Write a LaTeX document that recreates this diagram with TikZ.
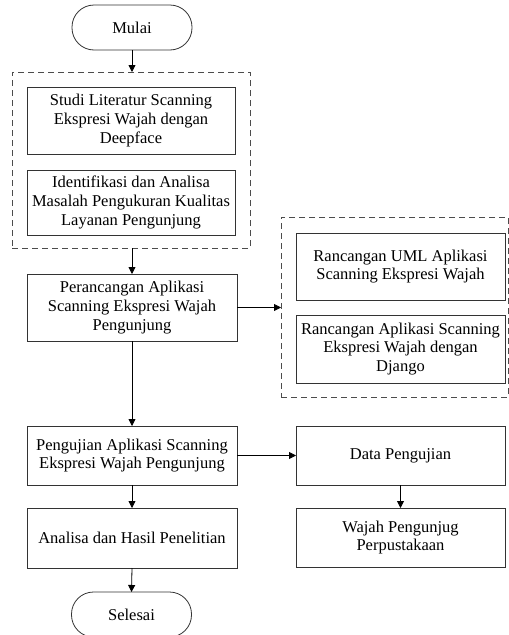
\documentclass[tikz,border=0pt]{standalone}
\usepackage{fontspec}
\setmainfont{Liberation Serif}
\usetikzlibrary{arrows.meta}
\begin{document}
\begin{tikzpicture}[x=1pt,y=-1pt,
  font=\fontsize{16.5}{18.7}\selectfont,
  every node/.style={inner sep=0pt, outer sep=0pt},
  box/.style={draw=black!80, line width=0.8pt, rectangle, align=center},
  term/.style={draw=black!80, line width=0.8pt, rectangle, rounded corners=22pt,
    minimum width=120pt, minimum height=45pt},
  group/.style={draw=black!70, line width=0.8pt, dash pattern=on 6pt off 4pt},
  flow/.style={draw=black, line width=0.8pt, -{Triangle[width=7pt,length=7pt]}}
]
\useasboundingbox (0,0) rectangle (509,635);

% dashed group frames
\node[group, minimum width=238pt, minimum height=176pt] (grpA) at (131,160) {};
\node[group, minimum width=227pt, minimum height=180pt] (grpB) at (394.5,307) {};

% terminators
\node[term] (mulai) at (132,27.5) {Mulai};
\node[term] (selesai) at (131.5,614.5) {Selesai};

% left column
\node[box, minimum width=208pt, minimum height=67pt] (studi) at (131,120.5)
  {Studi Literatur Scanning\\Ekspresi Wajah dengan\\Deepface};
\node[box, minimum width=208pt, minimum height=65pt] (ident) at (131,202.5)
  {Identifikasi dan Analisa\\Masalah Pengukuran Kualitas\\Layanan Pengunjung};
\node[box, minimum width=210pt, minimum height=67pt] (peran) at (132,307.5)
  {Perancangan Aplikasi\\Scanning Ekspresi Wajah\\Pengunjung};
\node[box, minimum width=210pt, minimum height=59pt] (uji) at (132,455.5)
  {Pengujian Aplikasi Scanning\\Ekspresi Wajah Pengunjung};
\node[box, minimum width=210pt, minimum height=60pt] (analisa) at (132,538)
  {Analisa dan Hasil Penelitian};

% right column
\node[box, minimum width=209pt, minimum height=67pt] (uml) at (400.5,266.5)
  {Rancangan UML Aplikasi\\Scanning Ekspresi Wajah};
\node[box, minimum width=209pt, minimum height=68pt] (django) at (400.5,349)
  {Rancangan Aplikasi Scanning\\Ekspresi Wajah dengan\\Django};
\node[box, minimum width=209pt, minimum height=59pt] (data) at (400.5,455.5)
  {Data Pengujian};
\node[box, minimum width=209pt, minimum height=59pt] (wajah) at (400.5,537.5)
  {Wajah Pengunjug\\Perpustakaan};

% connection points on the group frames
\coordinate (grpAin) at (mulai.south |- grpA.north);
\coordinate (grpAout) at (peran.north |- grpA.south);
\coordinate (grpBin) at (grpB.west |- peran.east);

% connectors
\draw[flow] (mulai.south) -- (grpAin);
\draw[flow] (grpAout) -- (peran.north);
\draw[flow] (peran.east) -- (grpBin);
\draw[flow] (peran.south) -- (uji.north);
\draw[flow] (uji.east) -- (data.west);
\draw[flow] (uji.south) -- (analisa.north);
\draw[flow] (analisa.south) -- (selesai.north);
\draw[flow] (data.south) -- (wajah.north);
\end{tikzpicture}
\end{document}
